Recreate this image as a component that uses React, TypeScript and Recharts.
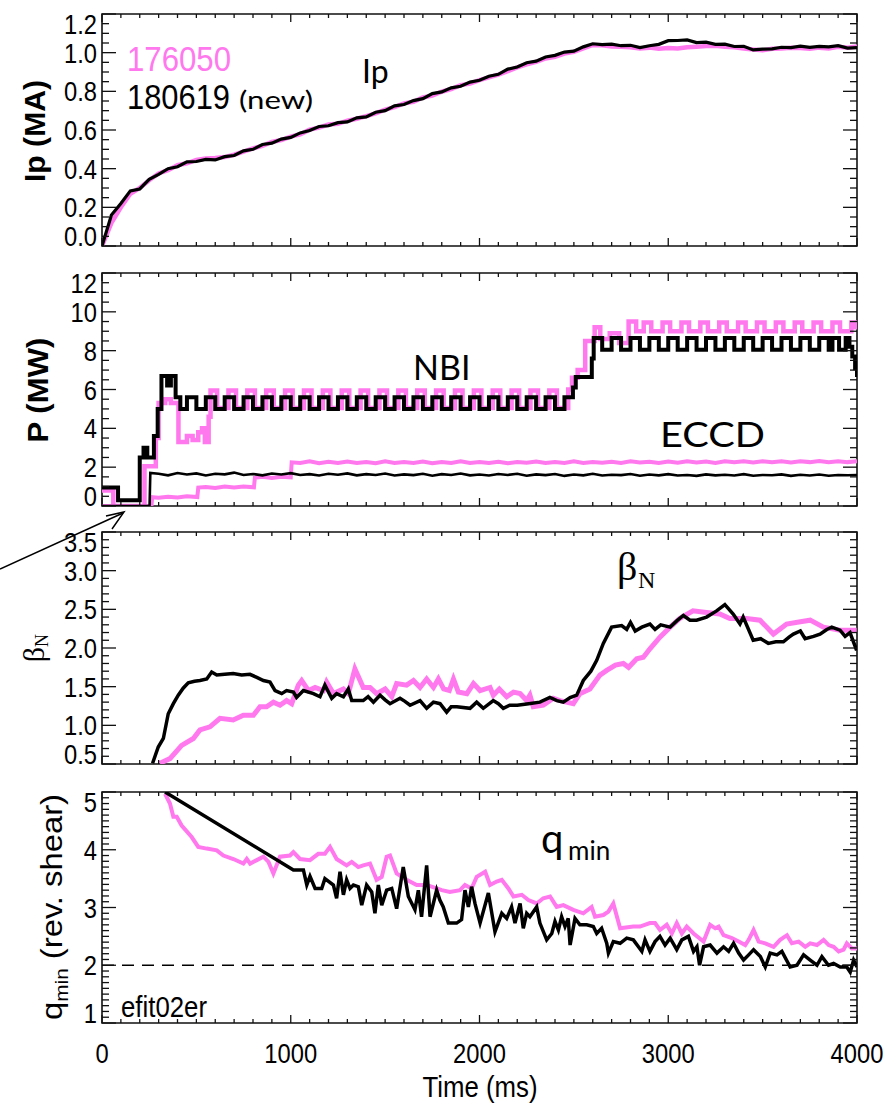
import React from "react";
import { LineChart, Line, XAxis, YAxis, ReferenceLine, ReferenceArea } from "recharts";

type Pt = [number, number];

const PINK = "#ff78ee";
const INK = "#000000";
const NARROW = '"Liberation Sans Narrow", "Liberation Sans", Arial, sans-serif';
const GEO = 'Lato, "DejaVu Sans", sans-serif';
const SERIF = '"Liberation Serif", "DejaVu Serif", serif';

const W = 889;
const H = 1105;
const PL = 102; // plot left edge (px)
const PR = 857; // plot right edge (px)

/* x 축 : time (ms) */
const TIME_LABELS = [0, 1000, 2000, 3000, 4000];

/* Ip (MA) — 50 ms samples */
const IP_TIME = [0, 50, 100, 150, 200, 250, 300, 350, 400, 450, 500, 550, 600, 650, 700, 750, 800, 850, 900, 950,
  1000, 1050, 1100, 1150, 1200, 1250, 1300, 1350, 1400, 1450, 1500, 1550, 1600, 1650, 1700, 1750, 1800, 1850, 1900, 1950,
  2000, 2050, 2100, 2150, 2200, 2250, 2300, 2350, 2400, 2450, 2500, 2550, 2600, 2650, 2700, 2750, 2800, 2850, 2900, 2950,
  3000, 3050, 3100, 3150, 3200, 3250, 3300, 3350, 3400, 3450, 3500, 3550, 3600, 3650, 3700, 3750, 3800, 3850, 3900, 3950, 4000];
const IP_176050 = [0.0, 0.12, 0.2, 0.27, 0.3, 0.34, 0.375, 0.392, 0.418, 0.428,
  0.445, 0.452, 0.455, 0.46, 0.472, 0.488, 0.505, 0.518, 0.538, 0.548,
  0.566, 0.578, 0.602, 0.612, 0.628, 0.632, 0.648, 0.658, 0.672, 0.686,
  0.705, 0.718, 0.738, 0.746, 0.768, 0.778, 0.798, 0.812, 0.832, 0.84,
  0.858, 0.872, 0.886, 0.905, 0.924, 0.94, 0.952, 0.97, 0.978, 0.995,
  1.004, 1.022, 1.04, 1.038, 1.032, 1.03, 1.028, 1.022, 1.026, 1.02,
  1.024, 1.022, 1.028, 1.03, 1.035, 1.036, 1.03, 1.028, 1.022, 1.016,
  1.012, 1.02, 1.022, 1.026, 1.024, 1.02, 1.026, 1.022, 1.03, 1.026, 1.032];
const IP_180619 = [0.0, 0.16, 0.22, 0.285, 0.295, 0.345, 0.37, 0.4, 0.41, 0.435,
  0.437, 0.448, 0.445, 0.462, 0.468, 0.492, 0.5, 0.525, 0.532, 0.553,
  0.562, 0.585, 0.597, 0.618, 0.622, 0.638, 0.642, 0.663, 0.668, 0.692,
  0.7, 0.725, 0.732, 0.752, 0.762, 0.788, 0.797, 0.818, 0.826, 0.848,
  0.857, 0.878, 0.888, 0.915, 0.926, 0.948, 0.956, 0.978, 0.986, 1.003,
  1.008, 1.03, 1.046, 1.042, 1.044, 1.036, 1.038, 1.026, 1.036, 1.043,
  1.062, 1.063, 1.066, 1.052, 1.054, 1.043, 1.044, 1.032, 1.033, 1.014,
  1.018, 1.02, 1.028, 1.026, 1.034, 1.027, 1.033, 1.03, 1.036, 1.024, 1.026];

/* P (MW) — NBI, step traces [t, MW] */
const NBI_176050: Pt[] = [[0, 0.8], [60, 0.0], [225, 2.05], [285, 3.5], [300, 5.3], [335, 5.5], [365, 5.3], [405, 3.3],
  [450, 3.6], [480, 3.4], [510, 3.8], [530, 4.0], [545, 3.3], [565, 4.6], [575, 5.95], [610, 5.05],
  [670, 5.95], [710, 5.05], [770, 5.95], [810, 5.05], [870, 5.95], [910, 5.05], [970, 5.95], [1010, 5.05],
  [1070, 5.95], [1110, 5.05], [1170, 5.95], [1210, 5.05], [1270, 5.95], [1310, 5.05], [1370, 5.95], [1410, 5.05],
  [1470, 5.95], [1510, 5.05], [1570, 5.95], [1610, 5.05], [1670, 5.95], [1710, 5.05], [1770, 5.95], [1810, 5.05],
  [1870, 5.95], [1910, 5.05], [1970, 5.95], [2010, 5.05], [2070, 5.95], [2110, 5.05], [2170, 5.95], [2210, 5.05],
  [2270, 5.95], [2310, 5.05], [2370, 5.95], [2410, 5.05], [2470, 6.0], [2490, 6.6], [2520, 7.0], [2560, 8.5],
  [2610, 9.2], [2640, 8.6], [2690, 8.9], [2740, 8.4], [2790, 9.5], [2830, 9.0], [2870, 9.45], [2910, 9.0],
  [2970, 9.45], [3010, 9.0], [3070, 9.45], [3110, 9.0], [3170, 9.45], [3210, 9.0], [3270, 9.45], [3310, 9.0],
  [3370, 9.45], [3410, 9.0], [3470, 9.45], [3510, 9.0], [3570, 9.45], [3610, 9.0], [3670, 9.45], [3710, 9.0],
  [3770, 9.45], [3810, 9.0], [3870, 9.45], [3910, 9.0], [3970, 9.45], [3990, 9.2], [4000, 9.2]];
const NBI_180619: Pt[] = [[0, 0.95], [85, 0.3], [200, 2.5], [220, 3.0], [240, 2.5], [275, 3.6], [295, 5.0], [315, 6.7],
  [345, 6.2], [365, 6.7], [390, 5.6], [415, 5.0], [450, 5.6], [500, 5.0], [550, 5.6], [600, 5.0], [650, 5.6],
  [700, 5.0], [750, 5.6], [800, 5.0], [850, 5.6], [900, 5.0], [950, 5.6], [1000, 5.0], [1050, 5.6], [1100, 5.0],
  [1150, 5.6], [1200, 5.0], [1250, 5.6], [1300, 5.0], [1350, 5.6], [1400, 5.0], [1450, 5.6], [1500, 5.0],
  [1550, 5.6], [1600, 5.0], [1650, 5.6], [1700, 5.0], [1750, 5.6], [1800, 5.0], [1850, 5.6], [1900, 5.0],
  [1950, 5.6], [2000, 5.0], [2050, 5.6], [2100, 5.0], [2150, 5.6], [2200, 5.0], [2250, 5.6], [2300, 5.0],
  [2350, 5.6], [2400, 5.0], [2450, 5.6], [2495, 6.1], [2510, 6.65], [2595, 7.6], [2605, 8.65], [2650, 8.05],
  [2700, 8.65], [2750, 8.05], [2800, 8.65], [2850, 8.05], [2900, 8.65], [2950, 8.05], [3000, 8.65], [3050, 8.05],
  [3100, 8.65], [3150, 8.05], [3200, 8.65], [3250, 8.05], [3300, 8.65], [3350, 8.05], [3400, 8.65], [3450, 8.05],
  [3500, 8.65], [3550, 8.05], [3600, 8.65], [3650, 8.05], [3700, 8.65], [3750, 8.05], [3800, 8.65], [3850, 8.05],
  [3870, 8.65], [3905, 8.05], [3940, 8.65], [3960, 8.2], [3975, 7.7], [3990, 7.1], [4000, 6.65]];

/* P (MW) — ECCD [t, MW] */
const ECCD_176050: Pt[] = [[0, 0.0], [262, 0.0], [266, 0.45], [300, 0.42], [350, 0.48], [400, 0.44], [450, 0.5],
  [505, 0.46], [510, 0.95], [550, 0.98], [600, 0.93], [650, 1.0], [700, 0.95], [750, 1.0], [805, 0.96], [810, 1.45],
  [850, 1.5], [900, 1.44], [950, 1.5], [1000, 1.47], [1005, 2.25], [1050, 2.22], [1100, 2.3], [1150, 2.2],
  [1200, 2.28], [1250, 2.21], [1300, 2.29], [1350, 2.22], [1400, 2.27], [1450, 2.2], [1500, 2.3], [1550, 2.21],
  [1600, 2.26], [1650, 2.22], [1700, 2.29], [1750, 2.2], [1800, 2.27], [1850, 2.22], [1900, 2.3], [1950, 2.21],
  [2000, 2.26], [2050, 2.22], [2100, 2.28], [2150, 2.2], [2200, 2.27], [2250, 2.23], [2300, 2.29], [2350, 2.21],
  [2400, 2.27], [2450, 2.22], [2500, 2.3], [2550, 2.21], [2600, 2.27], [2650, 2.23], [2700, 2.28], [2750, 2.22],
  [2800, 2.3], [2850, 2.24], [2900, 2.28], [2950, 2.22], [3000, 2.29], [3050, 2.23], [3100, 2.3], [3150, 2.24],
  [3200, 2.29], [3250, 2.22], [3300, 2.3], [3350, 2.25], [3400, 2.31], [3450, 2.24], [3500, 2.3], [3550, 2.25],
  [3600, 2.31], [3650, 2.24], [3700, 2.3], [3750, 2.26], [3800, 2.32], [3850, 2.25], [3900, 2.31], [3950, 2.26], [4000, 2.3]];
const ECCD_180619: Pt[] = [[0, 0.0], [252, 0.0], [256, 1.7], [300, 1.66], [350, 1.58], [400, 1.7], [450, 1.62],
  [500, 1.68], [550, 1.57], [600, 1.66], [650, 1.63], [700, 1.72], [750, 1.6], [800, 1.65], [850, 1.58], [900, 1.67],
  [950, 1.62], [1000, 1.69], [1050, 1.6], [1100, 1.64], [1150, 1.57], [1200, 1.66], [1250, 1.61], [1300, 1.68],
  [1350, 1.58], [1400, 1.64], [1450, 1.6], [1500, 1.67], [1550, 1.57], [1600, 1.63], [1650, 1.59], [1700, 1.66],
  [1750, 1.56], [1800, 1.64], [1850, 1.6], [1900, 1.67], [1950, 1.58], [2000, 1.62], [2050, 1.57], [2100, 1.65],
  [2150, 1.6], [2200, 1.66], [2250, 1.56], [2300, 1.63], [2350, 1.59], [2400, 1.65], [2450, 1.55], [2500, 1.62],
  [2550, 1.58], [2600, 1.66], [2650, 1.57], [2700, 1.61], [2750, 1.59], [2800, 1.65], [2850, 1.56], [2900, 1.62],
  [2950, 1.58], [3000, 1.64], [3050, 1.57], [3100, 1.6], [3150, 1.55], [3200, 1.63], [3250, 1.58], [3300, 1.61],
  [3350, 1.57], [3400, 1.64], [3450, 1.56], [3500, 1.6], [3550, 1.58], [3600, 1.63], [3650, 1.55], [3700, 1.61],
  [3750, 1.57], [3800, 1.62], [3850, 1.56], [3900, 1.6], [3950, 1.58], [4000, 1.6]];

/* beta_N */
const BETA_176050: Pt[] = [[307, 0.51], [360, 0.57], [422, 0.74], [484, 0.83], [519, 0.94], [572, 0.98], [625, 1.09],
  [695, 1.07], [749, 1.13], [802, 1.13], [837, 1.24], [872, 1.24], [908, 1.3], [943, 1.26], [978, 1.32], [1005, 1.28],
  [1040, 1.52], [1058, 1.58], [1094, 1.45], [1129, 1.49], [1173, 1.45], [1190, 1.56], [1226, 1.41], [1279, 1.47],
  [1305, 1.41], [1340, 1.73], [1384, 1.49], [1420, 1.49], [1455, 1.41], [1500, 1.47], [1535, 1.37], [1561, 1.54],
  [1614, 1.52], [1650, 1.58], [1685, 1.49], [1720, 1.6], [1756, 1.49], [1782, 1.6], [1810, 1.47], [1840, 1.45],
  [1862, 1.6], [1888, 1.43], [1933, 1.41], [1968, 1.54], [2003, 1.45], [2056, 1.49], [2073, 1.39], [2105, 1.47],
  [2144, 1.37], [2180, 1.43], [2215, 1.41], [2250, 1.32], [2267, 1.39], [2285, 1.24], [2338, 1.26], [2391, 1.35],
  [2426, 1.32], [2497, 1.28], [2532, 1.41], [2585, 1.47], [2638, 1.65], [2674, 1.71], [2720, 1.78], [2762, 1.8],
  [2790, 1.75], [2833, 1.86], [2868, 1.88], [2903, 1.99], [2956, 2.14], [3010, 2.27], [3060, 2.38], [3131, 2.48],
  [3203, 2.46], [3273, 2.44], [3326, 2.38], [3415, 2.38], [3486, 2.36], [3557, 2.18], [3627, 2.31], [3700, 2.34],
  [3752, 2.36], [3822, 2.27], [3910, 2.23], [3998, 2.23]];
const BETA_180619: Pt[] = [[268, 0.51], [298, 0.72], [325, 0.83], [351, 1.15], [378, 1.28], [404, 1.39], [430, 1.48],
  [457, 1.55], [490, 1.57], [519, 1.58], [555, 1.6], [581, 1.69], [608, 1.65], [650, 1.66], [695, 1.67], [740, 1.65],
  [784, 1.66], [820, 1.62], [855, 1.58], [890, 1.56], [917, 1.45], [952, 1.41], [978, 1.45], [1014, 1.43],
  [1031, 1.36], [1067, 1.45], [1120, 1.41], [1155, 1.37], [1181, 1.52], [1217, 1.35], [1243, 1.41], [1279, 1.37],
  [1305, 1.47], [1323, 1.32], [1384, 1.32], [1410, 1.37], [1438, 1.3], [1473, 1.39], [1500, 1.33], [1526, 1.28],
  [1579, 1.35], [1605, 1.31], [1632, 1.26], [1685, 1.32], [1720, 1.22], [1756, 1.3], [1791, 1.28], [1826, 1.17],
  [1850, 1.24], [1880, 1.24], [1950, 1.22], [1985, 1.3], [2020, 1.22], [2073, 1.32], [2100, 1.28], [2126, 1.22],
  [2160, 1.26], [2200, 1.26], [2260, 1.28], [2320, 1.3], [2373, 1.36], [2410, 1.32], [2444, 1.3], [2480, 1.36],
  [2515, 1.39], [2550, 1.58], [2590, 1.7], [2621, 1.84], [2656, 2.06], [2700, 2.27], [2753, 2.29], [2780, 2.24],
  [2800, 2.33], [2825, 2.22], [2860, 2.27], [2903, 2.31], [2930, 2.24], [2960, 2.3], [3010, 2.27], [3045, 2.35],
  [3080, 2.42], [3115, 2.36], [3150, 2.36], [3203, 2.4], [3256, 2.48], [3300, 2.56], [3344, 2.44], [3380, 2.31],
  [3397, 2.4], [3450, 2.1], [3490, 2.12], [3530, 2.06], [3570, 2.08], [3610, 2.08], [3640, 2.14], [3663, 2.18],
  [3700, 2.22], [3725, 2.12], [3770, 2.15], [3804, 2.18], [3840, 2.24], [3866, 2.27], [3910, 2.23], [3937, 2.15],
  [3963, 2.2], [3998, 1.97]];

/* q_min (rev. shear) */
const QMIN_176050: Pt[] = [[334, 4.97], [360, 4.8], [378, 4.57], [396, 4.57], [422, 4.42], [475, 4.22], [510, 4.05],
  [555, 4.02], [608, 3.99], [643, 3.9], [696, 3.84], [749, 3.76], [767, 3.84], [785, 3.76], [820, 3.82], [855, 3.88],
  [882, 3.79], [908, 3.59], [943, 3.88], [996, 3.9], [1014, 3.96], [1049, 3.84], [1102, 3.82], [1146, 3.93],
  [1181, 3.93], [1208, 4.05], [1243, 3.84], [1296, 3.73], [1323, 3.79], [1358, 3.7], [1384, 3.73], [1420, 3.76],
  [1455, 3.48], [1482, 3.53], [1508, 3.88], [1526, 3.9], [1561, 3.59], [1614, 3.48], [1667, 3.39], [1720, 3.39],
  [1773, 3.33], [1800, 3.3], [1843, 3.27], [1897, 3.3], [1923, 3.39], [1958, 3.33], [1985, 3.53], [2030, 3.62],
  [2056, 3.39], [2091, 3.45], [2118, 3.48], [2153, 3.33], [2180, 3.19], [2224, 3.22], [2259, 3.13], [2303, 3.07],
  [2338, 3.16], [2374, 3.19], [2409, 3.01], [2444, 3.04], [2497, 2.96], [2550, 2.9], [2594, 3.01], [2612, 2.84],
  [2656, 2.87], [2683, 2.93], [2709, 3.07], [2745, 2.64], [2815, 2.67], [2850, 2.67], [2903, 2.73], [2930, 2.73],
  [2956, 2.61], [2992, 2.7], [3019, 2.55], [3045, 2.73], [3072, 2.55], [3098, 2.67], [3134, 2.55], [3187, 2.41],
  [3222, 2.7], [3249, 2.64], [3267, 2.67], [3293, 2.52], [3337, 2.47], [3373, 2.41], [3408, 2.35], [3426, 2.44],
  [3452, 2.61], [3479, 2.41], [3514, 2.38], [3558, 2.32], [3593, 2.44], [3629, 2.52], [3655, 2.38], [3691, 2.41],
  [3726, 2.32], [3752, 2.38], [3788, 2.35], [3823, 2.44], [3850, 2.35], [3876, 2.32], [3903, 2.24], [3929, 2.27],
  [3946, 2.38], [3973, 2.29], [4000, 2.29]];
const QMIN_180619: Pt[] = [[334, 5.0], [1014, 3.65], [1067, 3.65], [1085, 3.39], [1102, 3.54], [1129, 3.33],
  [1164, 3.33], [1181, 3.5], [1226, 3.39], [1243, 3.16], [1261, 3.62], [1279, 3.22], [1296, 3.48], [1314, 3.33],
  [1332, 3.39], [1358, 3.36], [1376, 3.04], [1402, 3.39], [1429, 3.27], [1446, 2.9], [1464, 3.39], [1482, 3.04],
  [1508, 3.3], [1535, 3.33], [1561, 2.98], [1596, 3.7], [1623, 3.19], [1658, 2.96], [1676, 3.3], [1693, 2.84],
  [1720, 3.73], [1738, 2.84], [1773, 3.3], [1790, 3.13], [1808, 3.01], [1835, 2.73], [1879, 2.73], [1905, 2.79],
  [1923, 3.3], [1941, 3.01], [1958, 3.36], [1976, 3.07], [2003, 2.73], [2047, 3.25], [2082, 2.58], [2118, 2.9],
  [2144, 2.81], [2170, 3.01], [2188, 2.73], [2215, 3.07], [2232, 2.64], [2250, 2.9], [2267, 2.84], [2303, 3.01],
  [2320, 2.73], [2356, 2.44], [2383, 2.55], [2400, 2.76], [2418, 2.61], [2435, 2.84], [2453, 2.67], [2470, 2.81],
  [2480, 2.35], [2506, 2.81], [2532, 2.7], [2568, 2.7], [2603, 2.67], [2621, 2.55], [2647, 2.64], [2674, 2.38],
  [2683, 2.21], [2709, 2.41], [2745, 2.38], [2780, 2.47], [2815, 2.44], [2842, 2.32], [2860, 2.24], [2877, 2.44],
  [2903, 2.24], [2930, 2.41], [2956, 2.5], [2983, 2.35], [3010, 2.47], [3045, 2.27], [3072, 2.44], [3107, 2.5],
  [3134, 2.24], [3152, 2.32], [3166, 2.0], [3187, 2.32], [3222, 2.35], [3258, 2.21], [3293, 2.32], [3320, 2.24],
  [3346, 2.38], [3373, 2.21], [3399, 2.09], [3426, 2.18], [3452, 2.27], [3488, 2.15], [3514, 1.97], [3540, 2.21],
  [3576, 2.18], [3602, 2.24], [3646, 1.97], [3682, 2.0], [3717, 2.18], [3752, 2.09], [3788, 2.0], [3814, 2.15],
  [3849, 2.0], [3876, 2.03], [3911, 1.97], [3946, 1.97], [3964, 1.88], [3982, 2.09], [4000, 1.97]];

/* y 축 major tick 값 */
const IP_TICKS = [0, 0.2, 0.4, 0.6, 0.8, 1.0, 1.2];
const P_TICKS = [0, 2, 4, 6, 8, 10, 12];
const BETA_TICKS = [0.5, 1.0, 1.5, 2.0, 2.5, 3.0, 3.5];
const Q_TICKS = [1, 2, 3, 4, 5];

const fine = (lo: number, hi: number, step: number) =>
  Array.from({ length: Math.round((hi - lo) / step) + 1 }, (_, i) => +(lo + i * step).toFixed(4));
const X_FINE = fine(0, 4000, 100);

const rowsOf = (pts: Pt[]) => pts.map(([t, v]) => ({ t, v }));
const rowsFrom = (ts: number[], vs: number[]) => ts.map((t, i) => ({ t, v: vs[i] }));

/* 좁은 글꼴 흉내: 숫자 13.2px, 점 6.6px */
const narrowLen = (s: string) => [...s].reduce((a, c) => a + (c === "." ? 6.6 : 13.2), 0);

const yTick = (lt: number, lb: number, majors: number[], fmt: (v: number) => string) => (p: any) => {
  const y = p.y;
  const v = p.payload.value;
  const major = majors.some((m) => Math.abs(m - v) < 1e-6);
  const len = major ? 14 : 7;
  let shift = 0;
  if (Math.abs(y - lt) < 0.6) shift = 10;
  if (Math.abs(y - lb) < 0.6) shift = -10;
  const label = fmt(v);
  return (
    <g>
      <line x1={PL} x2={PL + len} y1={y} y2={y} stroke="#111" strokeWidth={1.3} />
      <line x1={PR - len} x2={PR} y1={y} y2={y} stroke="#111" strokeWidth={1.3} />
      {major && (
        <text x={PL - 5} y={y + shift} dy="0.36em" textAnchor="end" fontFamily={NARROW} fontSize={28} fill={INK}
          textLength={narrowLen(label)} lengthAdjust="spacingAndGlyphs">
          {label}
        </text>
      )}
    </g>
  );
};

const xTick = (lt: number, lb: number, labels: boolean) => (p: any) => {
  const x = p.x;
  const v = p.payload.value;
  const major = TIME_LABELS.includes(v);
  const len = major ? 8 : 4;
  const label = String(v);
  return (
    <g>
      <line x1={x} x2={x} y1={lb} y2={lb - len} stroke="#111" strokeWidth={1.3} />
      <line x1={x} x2={x} y1={lt} y2={lt + len} stroke="#111" strokeWidth={1.3} />
      {labels && major && (
        <text x={x} y={lb + 40} textAnchor="middle" fontFamily={NARROW} fontSize={28} fill={INK}
          textLength={narrowLen(label)} lengthAdjust="spacingAndGlyphs">
          {label}
        </text>
      )}
    </g>
  );
};

interface PanelProps {
  top: number;
  bottom: number;
  domain: [number, number];
  majors: number[];
  minorStep: number;
  fmt: (v: number) => string;
  xLabels?: boolean;
  children?: React.ReactNode;
}

function Panel({ top, bottom, domain, majors, minorStep, fmt, xLabels = false, children }: PanelProps) {
  const pad = 20;
  const plotH = bottom - top;
  const xh = xLabels ? 60 : 20;
  const lt = pad;
  const lb = pad + plotH;
  return (
    <div style={{ position: "absolute", left: 0, top: top - pad }}>
      <LineChart width={W} height={pad + plotH + xh} margin={{ top: pad, right: W - PR, bottom: 0, left: PL - 60 }}
        style={{ overflow: "visible" }}>
        <XAxis type="number" dataKey="t" domain={[0, 4000]} ticks={X_FINE} interval={0}
          tick={xTick(lt, lb, xLabels)} tickLine={false} axisLine={false} height={xh} allowDataOverflow />
        <YAxis type="number" domain={domain} ticks={fine(domain[0], domain[1], minorStep)} interval={0}
          tick={yTick(lt, lb, majors, fmt)} tickLine={false} axisLine={false} width={60} allowDataOverflow />
        <ReferenceArea x1={0} x2={4000} y1={domain[0]} y2={domain[1]} fill="none" fillOpacity={0}
          stroke="#111" strokeWidth={1.6} ifOverflow="visible" />
        {children}
      </LineChart>
    </div>
  );
}

export default function App() {
  return (
    <div style={{ position: "absolute", left: 0, top: 0, width: W, height: H, background: "#fff" }}>
      {/* Ip */}
      <Panel top={14} bottom={246} domain={[0, 1.2]} majors={IP_TICKS} minorStep={0.05} fmt={(v) => v.toFixed(1)}>
        <Line data={rowsFrom(IP_TIME, IP_176050)} dataKey="v" stroke={PINK} strokeWidth={4.5} dot={false} isAnimationActive={false} />
        <Line data={rowsFrom(IP_TIME, IP_180619)} dataKey="v" stroke={INK} strokeWidth={3.2} dot={false} isAnimationActive={false} />
      </Panel>

      {/* P */}
      <Panel top={273} bottom={506} domain={[0, 12]} majors={P_TICKS} minorStep={0.5} fmt={(v) => String(v)}>
        <Line data={rowsOf(NBI_176050)} dataKey="v" type="stepAfter" stroke={PINK} strokeWidth={4.5} dot={false} isAnimationActive={false} />
        <Line data={rowsOf(ECCD_176050)} dataKey="v" stroke={PINK} strokeWidth={4} dot={false} isAnimationActive={false} />
        <Line data={rowsOf(ECCD_180619)} dataKey="v" stroke={INK} strokeWidth={2.6} dot={false} isAnimationActive={false} />
        <Line data={rowsOf(NBI_180619)} dataKey="v" type="stepAfter" stroke={INK} strokeWidth={4} dot={false} isAnimationActive={false} />
      </Panel>

      {/* beta_N */}
      <Panel top={532} bottom={764} domain={[0.5, 3.5]} majors={BETA_TICKS} minorStep={0.1} fmt={(v) => v.toFixed(1)}>
        <Line data={rowsOf(BETA_176050)} dataKey="v" stroke={PINK} strokeWidth={5} dot={false} isAnimationActive={false} />
        <Line data={rowsOf(BETA_180619)} dataKey="v" stroke={INK} strokeWidth={3.5} dot={false} isAnimationActive={false} />
      </Panel>

      {/* q_min */}
      <Panel top={792} bottom={1023} domain={[1, 5]} majors={Q_TICKS} minorStep={0.1} fmt={(v) => String(v)} xLabels>
        <ReferenceLine y={2} stroke={INK} strokeWidth={1.3} strokeDasharray="12 8" />
        <Line data={rowsOf(QMIN_176050)} dataKey="v" stroke={PINK} strokeWidth={4} dot={false} isAnimationActive={false} />
        <Line data={rowsOf(QMIN_180619)} dataKey="v" stroke={INK} strokeWidth={3.5} dot={false} isAnimationActive={false} />
      </Panel>

      {/* 주석, 축 제목 */}
      <svg width={W} height={H} style={{ position: "absolute", left: 0, top: 0, pointerEvents: "none" }}>
        <text x={127} y={71} fill={PINK} fontFamily={NARROW} fontSize={35} textLength={104} lengthAdjust="spacingAndGlyphs">176050</text>
        <text x={127} y={109} fill={INK} fontFamily={NARROW} fontSize={35} textLength={103} lengthAdjust="spacingAndGlyphs">180619</text>
        <text x={239} y={109} fill={INK} fontFamily={GEO} fontSize={25} textLength={74} lengthAdjust="spacingAndGlyphs">(new)</text>
        <text x={362} y={83} fill={INK} fontFamily={GEO} fontSize={32}>Ip</text>

        <text x={413} y={380} fill={INK} fontFamily={GEO} fontSize={34}>NBI</text>
        <text x={660} y={447} fill={INK} fontFamily={GEO} fontSize={34} textLength={105} lengthAdjust="spacingAndGlyphs">ECCD</text>

        <text x={617} y={580} fill={INK} fontFamily={SERIF} fontSize={40}>β</text>
        <text x={638} y={588} fill={INK} fontFamily={SERIF} fontSize={24}>N</text>

        <text x={541} y={853} fill={INK} fontFamily={GEO} fontSize={40}>q</text>
        <text x={568} y={860} fill={INK} fontFamily={GEO} fontSize={26}>min</text>

        <text x={121} y={1017} fill={INK} fontFamily={NARROW} fontSize={29} textLength={86} lengthAdjust="spacingAndGlyphs">efit02er</text>

        <text transform="rotate(-90 45 131)" x={45} y={131} textAnchor="middle" fill={INK} fontFamily={NARROW}
          fontWeight="bold" fontSize={29} textLength={102} lengthAdjust="spacingAndGlyphs">Ip (MA)</text>
        <text transform="rotate(-90 48 390)" x={48} y={390} textAnchor="middle" fill={INK} fontFamily={NARROW}
          fontWeight="bold" fontSize={29} textLength={105} lengthAdjust="spacingAndGlyphs">P (MW)</text>
        <text transform="rotate(-90 44 648)" x={44} y={648} textAnchor="middle" fill={INK} fontFamily={SERIF} fontSize={30}>
          β<tspan fontSize={18} dy={4}>N</tspan>
        </text>
        <text transform="rotate(-90 62 907)" x={62} y={907} textAnchor="middle" fill={INK} fontFamily={NARROW} fontSize={30}
          textLength={226} lengthAdjust="spacingAndGlyphs">
          q<tspan fontSize={19} dy={6}>min</tspan><tspan dy={-6}> (rev. shear)</tspan>
        </text>

        <text x={480} y={1097} textAnchor="middle" fill={INK} fontFamily={NARROW} fontSize={29} textLength={115} lengthAdjust="spacingAndGlyphs">Time (ms)</text>

        <line x1={0} y1={569} x2={123} y2={513} stroke={INK} strokeWidth={1.5} />
        <polyline points="106,516 124,512 112,529" fill="none" stroke={INK} strokeWidth={1.5} />
      </svg>
    </div>
  );
}
